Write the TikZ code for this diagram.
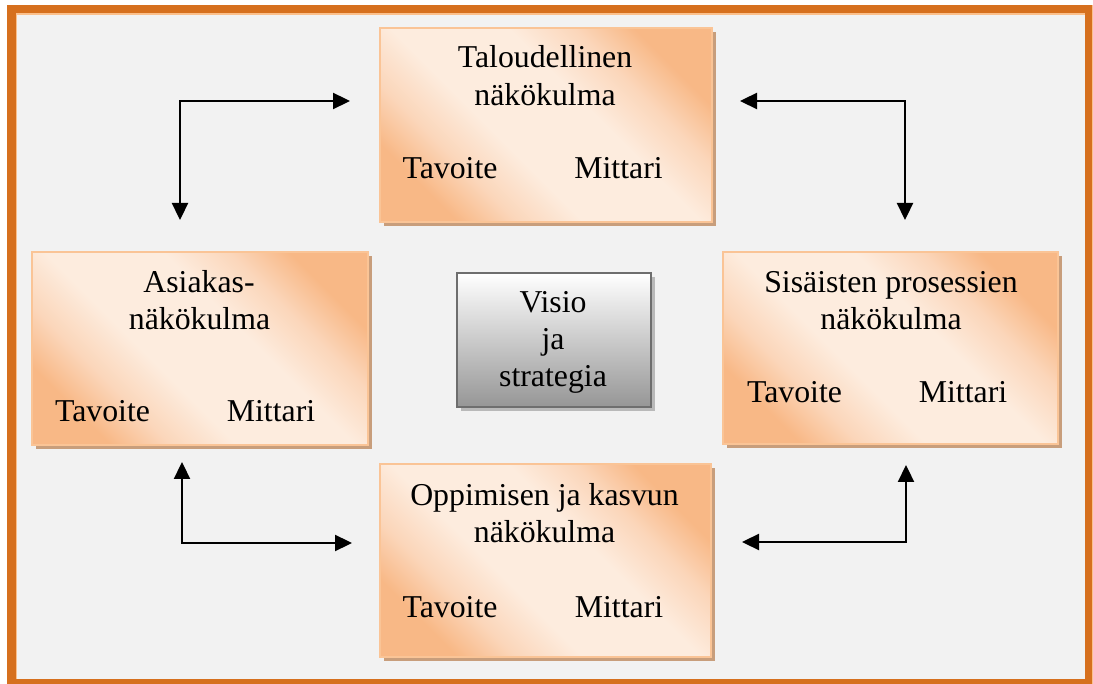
\documentclass[tikz,border=0pt]{standalone}
\usepackage{fontspec}
\setmainfont{Liberation Serif}
\usetikzlibrary{arrows.meta,shadows}

\definecolor{frameor}{RGB}{214,112,30}
\definecolor{frameedge}{RGB}{251,192,140}
\definecolor{panel}{RGB}{242,242,242}
\definecolor{boxdark}{RGB}{248,184,134}
\definecolor{boxmid}{RGB}{251,214,186}
\definecolor{boxlight}{RGB}{253,236,222}
\definecolor{boxline}{RGB}{250,196,150}
\definecolor{boxshadow}{RGB}{200,158,124}
\definecolor{visline}{RGB}{110,110,110}
\definecolor{visbottom}{RGB}{150,150,150}
\definecolor{visshadow}{RGB}{185,185,185}

% diagonal fill: orange corners, broad light band through the middle
\pgfdeclareverticalshading{sunsetfill}{100bp}{%
  color(0bp)=(boxdark); color(25bp)=(boxdark); color(33bp)=(boxmid);
  color(42bp)=(boxlight); color(58bp)=(boxlight);
  color(67bp)=(boxmid); color(75bp)=(boxdark); color(100bp)=(boxdark)}

\tikzset{
  persp/.style={draw=boxline, line width=2pt, inner sep=0pt,
    shade, shading=sunsetfill, shading angle=-45,
    drop shadow={shadow xshift=4pt, shadow yshift=-4pt, fill=boxshadow, opacity=1}},
  visbox/.style={draw=visline, line width=2.5pt, inner sep=0pt,
    top color=white, bottom color=visbottom,
    drop shadow={shadow xshift=4pt, shadow yshift=-4pt, fill=visshadow, opacity=1}},
  txt/.style={inner sep=0pt, anchor=base, font=\fontsize{31.8}{38}\selectfont},
  link/.style={line width=2.3pt, line join=miter,
    {Triangle[length=17pt,width=16pt]}-{Triangle[length=17pt,width=16pt]}}
}

\begin{document}
\begin{tikzpicture}[x=1pt, y=-1pt]
  \useasboundingbox (0,0) rectangle (1093,684);

  % outer frame and panel
  \fill[frameor] (7,5) rectangle (1092,684);
  \fill[frameedge] (1092,5) rectangle (1093,684);
  \fill[panel] (16.5,14) rectangle (1085,679);
  \draw[frameedge, line width=1.5pt] (16.5,679) -- (16.5,14) -- (1085,14);

  % perspective boxes
  \node[persp, minimum width=332pt, minimum height=194pt] (fin) at (546,125) {};
  \node[persp, minimum width=336pt, minimum height=193pt] (cust) at (200,348.5) {};
  \node[persp, minimum width=335pt, minimum height=192pt] (proc) at (890.5,348) {};
  \node[persp, minimum width=331pt, minimum height=193pt] (learn) at (545.5,560.5) {};

  % centre box
  \node[visbox, minimum width=194pt, minimum height=134pt] (vis) at (554,340) {};

  % texts: financial perspective
  \node[txt] (fin1) at (545,68) {Taloudellinen};
  \node[txt] (fin2) at (545,106) {näkökulma};
  \node[txt] (finT) at (450,179) {Tavoite};
  \node[txt] (finM) at (618.5,179) {Mittari};

  % texts: customer perspective
  \node[txt] (cust1) at (199,293) {Asiakas-};
  \node[txt] (cust2) at (199.5,330) {näkökulma};
  \node[txt] (custT) at (102.5,422) {Tavoite};
  \node[txt] (custM) at (271,422) {Mittari};

  % texts: internal process perspective
  \node[txt] (proc1) at (891,293) {Sisäisten prosessien};
  \node[txt] (proc2) at (891,330) {näkökulma};
  \node[txt] (procT) at (794.5,403) {Tavoite};
  \node[txt] (procM) at (963,403) {Mittari};

  % texts: learning and growth perspective
  \node[txt] (learn1) at (544.5,505) {Oppimisen ja kasvun};
  \node[txt] (learn2) at (544.5,542) {näkökulma};
  \node[txt] (learnT) at (450,617) {Tavoite};
  \node[txt] (learnM) at (619,617) {Mittari};

  % texts: vision and strategy
  \node[txt] (vis1) at (553,313) {Visio};
  \node[txt] (vis2) at (553,350) {ja};
  \node[txt] (vis3) at (553,387) {strategia};

  % elbow connectors between the perspectives
  \coordinate (tlA) at (350,101);
  \coordinate (tlC) at (180,101);
  \coordinate (tlB) at (180,220);
  \draw[link] (tlA) -- (tlC) -- (tlB);

  \coordinate (trA) at (740,101);
  \coordinate (trC) at (905,101);
  \coordinate (trB) at (905,220);
  \draw[link] (trA) -- (trC) -- (trB);

  \coordinate (blA) at (182,462);
  \coordinate (blC) at (182,543);
  \coordinate (blB) at (352,543);
  \draw[link] (blA) -- (blC) -- (blB);

  \coordinate (brA) at (906,465);
  \coordinate (brC) at (906,542);
  \coordinate (brB) at (742,542);
  \draw[link] (brA) -- (brC) -- (brB);
\end{tikzpicture}
\end{document}
